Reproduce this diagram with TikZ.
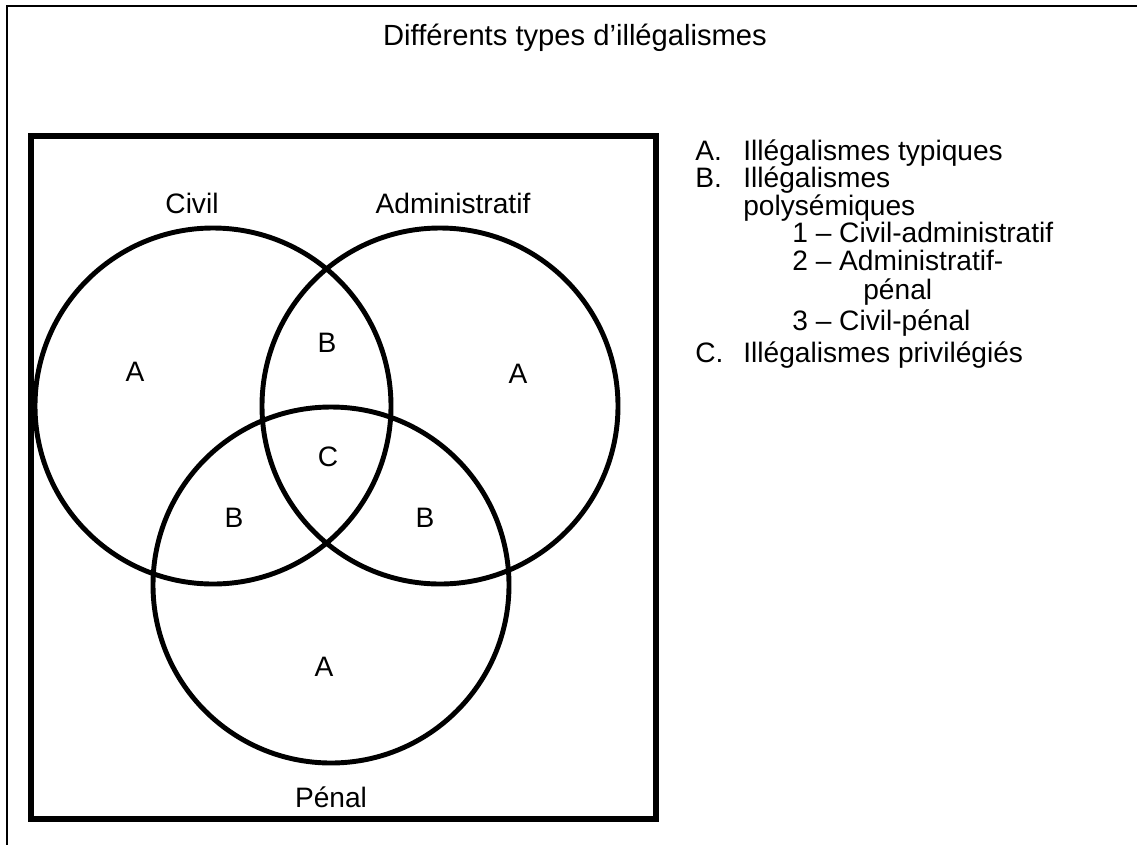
\documentclass[tikz,border=0pt]{standalone}
\usepackage{fontspec}
\setmainfont{Liberation Sans}

\begin{document}
\begin{tikzpicture}[x=0.2mm,y=-0.2mm,
  txt/.style={font=\fontsize{16}{19}\selectfont,inner sep=0pt},
  setline/.style={line width=2.8pt},
  boxline/.style={line width=3.4pt},
  frameline/.style={line width=0.8pt}]

\useasboundingbox (0,0) rectangle (1137,845);

% cadre extérieur (haut et gauche)
\coordinate (fTL) at (7,6);
\coordinate (fTR) at (1137,6);
\coordinate (fBL) at (7,845);
\draw[frameline] (fTR) -- (fTL) -- (fBL);

% titre
\node[txt,font=\fontsize{16.6}{19}\selectfont,anchor=base] (title) at (575,45) {Différents types d’illégalismes};

% cadre du diagramme
\coordinate (boxNW) at (31,136);
\coordinate (boxSE) at (656,819);
\draw[boxline] (boxNW) rectangle (boxSE);

% les trois ensembles
\coordinate (cCivil) at (213,406);
\coordinate (cAdmin) at (440,406);
\coordinate (cPenal) at (331,585);
\draw[setline] (cCivil) circle (178);
\draw[setline] (cAdmin) circle (178);
\draw[setline] (cPenal) circle (178);

% noms des ensembles
\node[txt,anchor=base] (civil) at (192,213) {Civil};
\node[txt,anchor=base] (admin) at (453,213) {Administratif};
\node[txt,anchor=base] (penal) at (331,807) {Pénal};

% zones
\node[txt] (aCivil) at (135,372) {A};
\node[txt] (aAdmin) at (518,374) {A};
\node[txt] (aPenal) at (324,667) {A};
\node[txt] (bCA) at (327,343) {B};
\node[txt] (bCP) at (234,518) {B};
\node[txt] (bAP) at (425,518) {B};
\node[txt] (cAll) at (328,457) {C};

% légende
\node[txt,anchor=base west] (legA) at (695,160) {A.};
\node[txt,anchor=base west] (legAt) at (743,160) {Illégalismes typiques};
\node[txt,anchor=base west] (legB) at (695,187) {B.};
\node[txt,anchor=base west] (legBt) at (743,187) {Illégalismes};
\node[txt,anchor=base west] (legBt2) at (743,215) {polysémiques};
\node[txt,anchor=base west] (leg1) at (792,242) {1 – Civil-administratif};
\node[txt,anchor=base west] (leg2) at (792,270) {2 – Administratif-};
\node[txt,anchor=base west] (leg2b) at (863,299) {pénal};
\node[txt,anchor=base west] (leg3) at (792,330) {3 – Civil-pénal};
\node[txt,anchor=base west] (legC) at (695,362) {C.};
\node[txt,anchor=base west] (legCt) at (743,362) {Illégalismes privilégiés};

\end{tikzpicture}
\end{document}
